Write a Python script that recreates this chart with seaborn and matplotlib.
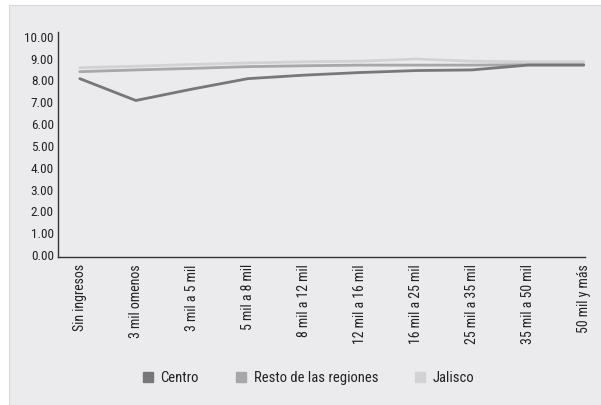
import matplotlib
matplotlib.use("Agg")
import matplotlib.pyplot as plt
from matplotlib.patches import Rectangle
from matplotlib.lines import Line2D
import seaborn as sns
import pandas as pd

categories = ["Sin ingresos", "3 mil omenos", "3 mil a 5 mil", "5 mil a 8 mil",
              "8 mil a 12 mil", "12 mil a 16 mil", "16 mil a 25 mil",
              "25 mil a 35 mil", "35 mil a 50 mil", "50 mil y más"]
centro = [8.08, 7.08, 7.60, 8.08, 8.24, 8.36, 8.45, 8.48, 8.70, 8.70]
resto = [8.40, 8.48, 8.55, 8.63, 8.67, 8.70, 8.70, 8.70, 8.72, 8.72]
jalisco = [8.58, 8.65, 8.73, 8.80, 8.85, 8.88, 8.98, 8.88, 8.85, 8.85]
series_names = ["Centro", "Resto de las regiones", "Jalisco"]
y_ticks = [0, 1, 2, 3, 4, 5, 6, 7, 8, 9, 10]

colors = ["#77777a", "#a7a7a9", "#d2d2d4"]
bg = "#ebebed"

sns.set_theme(style="white")
plt.rcParams["font.family"] = ["Liberation Sans Narrow", "Roboto Condensed",
                               "Open Sans Condensed", "DejaVu Sans"]

rows = []
for name, vals in zip(series_names, [centro, resto, jalisco]):
    for i, (c, v) in enumerate(zip(categories, vals)):
        rows.append({"pos": i, "cat": c, "serie": name, "valor": v})
df = pd.DataFrame(rows)

fig = plt.figure(figsize=(6.01, 4.05), dpi=100, facecolor="white")
fig.patches.append(Rectangle((9 / 601, 0), 1, 1 - 5 / 405, transform=fig.transFigure,
                             facecolor=bg, edgecolor="#d8d8da", linewidth=0.8,
                             zorder=-10))
ax = fig.add_axes([58 / 601, 1 - 257.3 / 405, (585 - 58) / 601, (257.3 - 31.7) / 405])
ax.set_facecolor(bg)

sns.lineplot(data=df, x="pos", y="valor", hue="serie", hue_order=series_names,
             palette=colors, linewidth=2.0, legend=False, ax=ax, sort=False)
# keep darker series on top
for line, z in zip(ax.get_lines(), [3, 2, 1]):
    line.set_zorder(z)

ax.set_xlim(-0.39, 9.02)
ax.set_ylim(-0.1, 10.23)
ax.set_yticks(y_ticks)
ax.set_yticklabels([f"{t:.2f}" for t in y_ticks], fontsize=9.5, color="#222222")
ax.set_xticks(range(len(categories)))
ax.set_xticklabels(categories, rotation=90, fontsize=10, color="#222222",
                   va="top", ha="center")
ax.tick_params(axis="both", length=0, pad=3)
ax.tick_params(axis="x", pad=5)
ax.set_xlabel("")
ax.set_ylabel("")
for side in ["top", "right"]:
    ax.spines[side].set_visible(False)
for side in ["left", "bottom"]:
    ax.spines[side].set_color("#333333")
    ax.spines[side].set_linewidth(1.0)

handles = [Line2D([], [], marker="s", linestyle="none", markersize=7,
                  markerfacecolor=c, markeredgecolor=c) for c in colors]
fig.legend(handles, series_names, loc="center", bbox_to_anchor=(0.513, 1 - 378 / 405),
           ncol=3, frameon=False, fontsize=10.5, handlelength=0.8, handletextpad=0.45,
           columnspacing=2.5, labelcolor="#222222")

fig.savefig("out.png", dpi=100, facecolor="white")
